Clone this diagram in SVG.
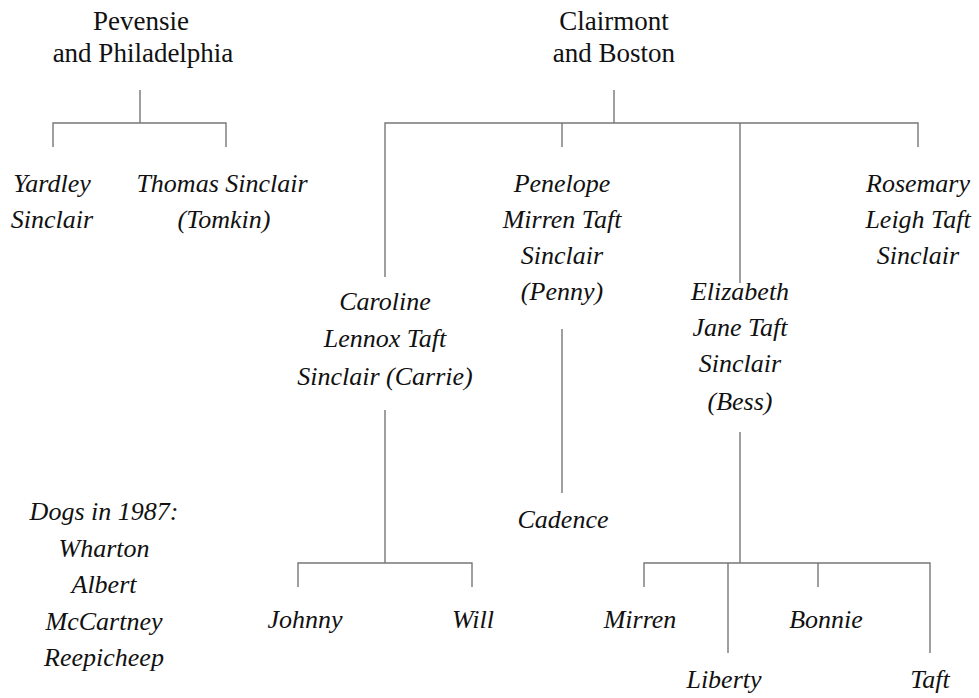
<svg xmlns="http://www.w3.org/2000/svg" width="979" height="698" viewBox="0 0 979 698">
<style>
.p{font-family:"Liberation Serif",serif;font-size:27px;fill:#111;text-anchor:middle}
.c{font-family:"Liberation Serif",serif;font-style:italic;font-size:26px;fill:#111;text-anchor:middle}
.l{stroke:#777;stroke-width:1.4;fill:none}
</style>
<rect width="979" height="698" fill="#fff"/>
<g id="connectors" class="l">
<path d="M140 90V123M53 147V123H226V147"/>
<path d="M614 90V123M385 277V123H918V147M562 123V147M740 123V283"/>
<path d="M562 329V493"/>
<path d="M385 410V563M298 587V563H472V587"/>
<path d="M740 432V563M644 587V563H930V653M728 563V653M818 563V587"/>
</g>
<g id="pevensie"><text class="p" x="141" y="30">Pevensie</text><text class="p" x="143" y="62">and Philadelphia</text></g>
<g id="clairmont"><text class="p" x="614" y="30">Clairmont</text><text class="p" x="614" y="62">and Boston</text></g>
<g id="yardley"><text class="c" x="52" y="192">Yardley</text><text class="c" x="52" y="228">Sinclair</text></g>
<g id="thomas"><text class="c" x="222" y="192">Thomas Sinclair</text><text class="c" x="224" y="228">(Tomkin)</text></g>
<g id="penelope"><text class="c" x="562" y="192">Penelope</text><text class="c" x="562" y="228">Mirren Taft</text><text class="c" x="562" y="264">Sinclair</text><text class="c" x="562" y="300">(Penny)</text></g>
<g id="rosemary"><text class="c" x="918" y="192">Rosemary</text><text class="c" x="918" y="228">Leigh Taft</text><text class="c" x="918" y="264">Sinclair</text></g>
<g id="caroline"><text class="c" x="385" y="310">Caroline</text><text class="c" x="385" y="347">Lennox Taft</text><text class="c" x="385" y="385">Sinclair (Carrie)</text></g>
<g id="elizabeth"><text class="c" x="740" y="300">Elizabeth</text><text class="c" x="740" y="336">Jane Taft</text><text class="c" x="740" y="372">Sinclair</text><text class="c" x="740" y="410">(Bess)</text></g>
<g id="cadence"><text class="c" x="563" y="528">Cadence</text></g>
<g id="johnny"><text class="c" x="305" y="628">Johnny</text></g>
<g id="will"><text class="c" x="473" y="628">Will</text></g>
<g id="mirren"><text class="c" x="640" y="628">Mirren</text></g>
<g id="bonnie"><text class="c" x="826" y="628">Bonnie</text></g>
<g id="liberty"><text class="c" x="724" y="688">Liberty</text></g>
<g id="taft"><text class="c" x="930" y="688">Taft</text></g>
<g id="dogs"><text class="c" x="104" y="520">Dogs in 1987:</text><text class="c" x="104" y="557">Wharton</text><text class="c" x="104" y="593">Albert</text><text class="c" x="104" y="630">McCartney</text><text class="c" x="104" y="666">Reepicheep</text></g>
</svg>
